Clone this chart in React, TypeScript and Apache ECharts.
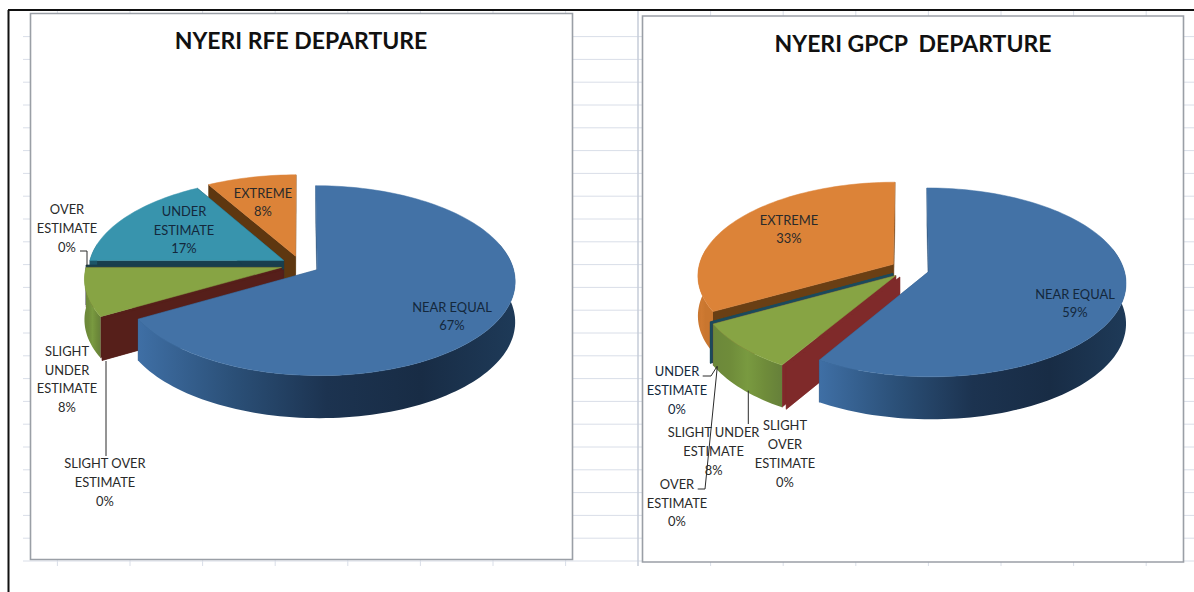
import React, { useEffect, useRef } from "react";
import * as echarts from "echarts";

const categories = ["NEAR EQUAL", "SLIGHT OVER ESTIMATE", "SLIGHT UNDER ESTIMATE", "OVER ESTIMATE", "UNDER ESTIMATE", "EXTREME"];
const rfeValues = [66.7, 0, 8.3, 0, 16.7, 8.3];
const gpcpValues = [58.6, 0, 8.3, 0, 0, 33.1];
const titles = ["NYERI RFE DEPARTURE", "NYERI GPCP  DEPARTURE"];

const FONT = "Lato, 'Liberation Sans', sans-serif";
const TAU = Math.PI * 2;

type Cfg = {
  values: number[]; cx: number; cy: number; rx: number; ry: number; k: number; e: number; depth: number;
  labels: { x: number; y: number; text: string }[];
  leaders: number[][][];
  cut: string[];
};

const top = ["#4372a6", "#9c3a36", "#87a444", "#5b4a80", "#3894ad", "#dc8338"];
const wall: string[][] = [
  ["#3f6fa5", "#2b5078", "#1c3350", "#182c45", "#1e3a58"],
  ["#7f2a2a", "#7f2a2a", "#7f2a2a", "#7f2a2a", "#7f2a2a"],
  ["#6c883a", "#6f8c3a", "#799a40", "#6f8c3a", "#66803a"],
  ["#1c4a5c", "#1c4a5c", "#1c4a5c", "#1c4a5c", "#1c4a5c"],
  ["#1c5568", "#1c5568", "#1c5568", "#1c5568", "#1c5568"],
  ["#c9762f", "#cf7a32", "#c9762f", "#c9762f", "#c9762f"],
];

const leftCfg: Cfg = {
  values: rfeValues, cx: 300.5, cy: 265, rx: 195, ry: 92.6, k: 0.115, e: 0.1, depth: 40,
  cut: ["#2b5078", "#561f1a", "#561f1a", "#183f4e", "#183f4e", "#5e3710"],
  labels: [
    { x: 452, y: 316, text: "NEAR EQUAL" },
    { x: 105, y: 482, text: "SLIGHT OVER\nESTIMATE" },
    { x: 67, y: 379, text: "SLIGHT\nUNDER\nESTIMATE" },
    { x: 67, y: 228, text: "OVER\nESTIMATE" },
    { x: 184, y: 229.5, text: "UNDER\nESTIMATE" },
    { x: 263, y: 202, text: "EXTREME" },
  ],
  leaders: [
    [[80, 251], [87, 251], [87, 266]],
    [[106, 361], [106, 456]],
  ],
};

const rightCfg: Cfg = {
  values: gpcpValues, cx: 910, cy: 269, rx: 195, ry: 92.6, k: 0.115, e: 0.1, depth: 40,
  cut: ["#2b5078", "#7f2a2a", "#7f2a2a", "#1c4a5c", "#1c5568", "#6a3f14"],
  labels: [
    { x: 1075, y: 303, text: "NEAR EQUAL" },
    { x: 785, y: 453.5, text: "SLIGHT\nOVER\nESTIMATE" },
    { x: 713.6, y: 451, text: "SLIGHT UNDER\nESTIMATE" },
    { x: 677, y: 502.5, text: "OVER\nESTIMATE" },
    { x: 677, y: 390, text: "UNDER\nESTIMATE" },
    { x: 789, y: 229, text: "EXTREME" },
  ],
  leaders: [
    [[702.7, 376], [711, 376], [717.3, 366]],
    [[697.7, 489], [705, 489], [717.3, 366.7]],
    [[748.3, 390.7], [748.3, 424]],
  ],
};

function sliceRange(values: number[], i: number) {
  const total = values.reduce((a, b) => a + b, 0);
  let acc = 0;
  for (let j = 0; j < i; j++) acc += values[j];
  return [(acc / total) * TAU, ((acc + values[i]) / total) * TAU];
}

function project(c: Cfg, X: number, Y: number) {
  const w = 1 - c.k * Y;
  return [c.cx + (c.rx * X) / w, c.cy + (c.ry * Y) / w];
}
function drop(c: Cfg, X: number, Y: number, p: number[]) {
  return [p[0], p[1] + c.depth / (1 - 0.5 * c.k * Y)];
}

function pieItem(c: Cfg, i: number) {
  const [a0, a1] = sliceRange(c.values, i);
  const mid = (a0 + a1) / 2;
  const ex = c.e * Math.sin(mid);
  const ey = -c.e * Math.cos(mid);
  const P = (r: number, a: number) => [ex + r * Math.sin(a), ey - r * Math.cos(a)];
  const topPt = (r: number, a: number) => { const q = P(r, a); return project(c, q[0], q[1]); };
  const botPt = (r: number, a: number) => { const q = P(r, a); return drop(c, q[0], q[1], project(c, q[0], q[1])); };
  const n = Math.max(2, Math.ceil((a1 - a0) / 0.03));
  const arcA = Array.from({ length: n + 1 }, (_, j) => a0 + ((a1 - a0) * j) / n);
  const children: any[] = [];
  const quad = (a: number, fill: string) => ({
    type: "polygon",
    shape: { points: [topPt(0, a), topPt(1, a), botPt(1, a), botPt(0, a)] },
    style: { fill, stroke: fill, lineWidth: 0.4 },
  });
  children.push(quad(a0, c.cut[i]));
  children.push(quad(a1, c.cut[i]));
  if (a1 > a0) {
    const stops = wall[i].map((color, j) => ({ offset: j / (wall[i].length - 1), color }));
    // only the part of the rim that faces the viewer has a visible wall
    const front = arcA.filter((a) => -Math.cos(a) + ey > -0.25);
    if (front.length > 1) {
      children.push({
        type: "polygon",
        shape: { points: [...front.map((a) => topPt(1, a)), ...front.slice().reverse().map((a) => botPt(1, a))] },
        style: { fill: new echarts.graphic.LinearGradient(0, 0, 1, 0, stops) },
      });
    }
    children.push({
      type: "polygon",
      shape: { points: [topPt(0, a0), ...arcA.map((a) => topPt(1, a))] },
      style: { fill: top[i], stroke: top[i], lineWidth: 0.5 },
    });
  }
  return { type: "group", children };
}

function pieSeries(c: Cfg) {
  // painted from the back slice to the front one
  const order = c.values.map((_, i) => i).reverse();
  return {
    type: "custom",
    coordinateSystem: "none",
    silent: true,
    z: 3,
    data: order.map((i) => ({ name: categories[i], value: c.values[i] })),
    renderItem: (p: any) => pieItem(c, order[p.dataIndex]),
  };
}

function labelSeries(c: Cfg) {
  return {
    type: "custom",
    coordinateSystem: "none",
    silent: true,
    z: 5,
    data: categories.map((name, i) => ({ name, value: c.values[i] })),
    renderItem: (p: any) => {
      const i = p.dataIndex;
      const l = c.labels[i];
      const children: any[] = [];
      if (i === 0) {
        c.leaders.forEach((pts) =>
          children.push({ type: "polyline", shape: { points: pts }, style: { fill: "none", stroke: "#2b2b2b", lineWidth: 1 } })
        );
      }
      children.push({
        type: "text",
        style: {
          text: `${l.text}\n${Math.round(c.values[i])}%`,
          x: l.x, y: l.y, align: "center", verticalAlign: "middle",
          font: `12.9px ${FONT}`, lineHeight: 18.7, fill: i === 0 || i === 4 ? "#14283c" : "#2a2a2a",
        },
      });
      return { type: "group", children };
    },
  };
}

const GRID = "#d9dee8";
function backdrop() {
  const els: any[] = [];
  for (let j = 0; j < 24; j++) {
    const y = 36.6 + j * 22.8;
    els.push({ type: "line", shape: { x1: 23, y1: y, x2: 1194, y2: y }, style: { stroke: GRID, lineWidth: 1 } });
  }
  for (let j = 0; j < 8; j++) {
    const xl = 57.4 + j * 72.6;
    els.push({ type: "line", shape: { x1: xl, y1: 11, x2: xl, y2: 566 }, style: { stroke: GRID, lineWidth: 1 } });
    const xr = 638 + j * 72.6;
    els.push({ type: "line", shape: { x1: xr, y1: 11, x2: xr, y2: 566 }, style: { stroke: j === 0 ? "#c6ccd8" : GRID, lineWidth: j === 0 ? 1.5 : 1 } });
  }
  els.push({ type: "rect", shape: { x: 30.5, y: 13.5, width: 542, height: 546 }, style: { fill: "#fff", stroke: "#9a9fa6", lineWidth: 1.6 } });
  els.push({ type: "rect", shape: { x: 642.5, y: 16, width: 541, height: 546 }, style: { fill: "#fff", stroke: "#9a9fa6", lineWidth: 1.6 } });
  els.push({ type: "line", shape: { x1: 8, y1: 10, x2: 1194, y2: 10 }, style: { stroke: "#111", lineWidth: 2 } });
  els.push({ type: "line", shape: { x1: 8.5, y1: 10, x2: 8.5, y2: 592 }, style: { stroke: "#111", lineWidth: 2 } });
  return els;
}

export default function App() {
  const ref = useRef<HTMLDivElement>(null);
  useEffect(() => {
    document.body.style.margin = "0";
    const chart = echarts.init(ref.current!, null, { renderer: "svg" });
    chart.setOption({
      animation: false,
      backgroundColor: "#ffffff",
      title: [
        { text: titles[0], left: 301, top: 40, padding: 0, textAlign: "center", textVerticalAlign: "middle", textStyle: { fontFamily: FONT, fontWeight: "bold", fontSize: 23, color: "#111" } },
        { text: titles[1], left: 913, top: 43, padding: 0, textAlign: "center", textVerticalAlign: "middle", textStyle: { fontFamily: FONT, fontWeight: "bold", fontSize: 23, color: "#111" } },
      ],
      graphic: { elements: backdrop().map((e) => ({ ...e, silent: true })) },
      series: [pieSeries(leftCfg), pieSeries(rightCfg), labelSeries(leftCfg), labelSeries(rightCfg)],
    });
    return () => chart.dispose();
  }, []);
  return <div ref={ref} style={{ position: "absolute", left: 0, top: 0, width: 1194, height: 592 }} />;
}
